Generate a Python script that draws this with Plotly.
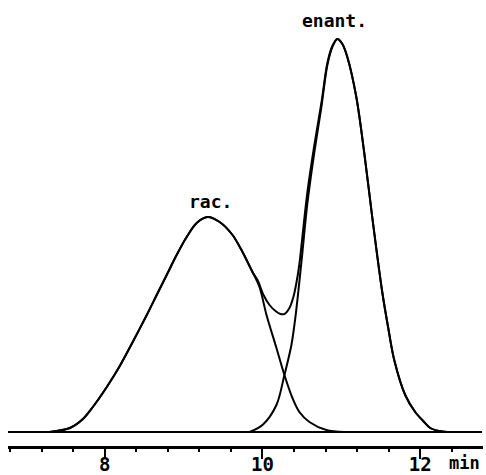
import plotly.graph_objects as go

# Retention time (min) and detector signal (arbitrary units)
rac_t = [7.30, 7.557, 7.722, 7.848, 8.025, 8.19, 8.354, 8.532, 8.658, 8.785, 8.911, 9.038, 9.165, 9.304,
         9.456, 9.62, 9.747, 9.873, 9.962, 10.051, 10.177, 10.278, 10.38, 10.468, 10.595, 10.81, 11.04]
rac_h = [0, 4, 13, 25, 45, 66, 90, 117, 137, 157, 177, 195, 209, 215,
         210, 197, 180, 160, 145, 117, 84, 57, 34, 20, 10, 2, 0]

enant_t = [9.835, 10.0, 10.177, 10.278, 10.367, 10.418, 10.494, 10.57, 10.658, 10.747, 10.823, 10.886, 10.949,
           11.013, 11.076, 11.19, 11.291, 11.392, 11.519, 11.595, 11.671, 11.81, 11.937, 12.038, 12.127, 12.24, 12.342]
enant_h = [0, 7, 27, 57, 87, 115, 170, 229, 280, 325, 367, 385, 393,
           388, 375, 335, 279, 215, 140, 104, 72, 37, 20, 11, 4, 1, 0]

total_t = [7.30, 7.557, 7.722, 7.848, 8.025, 8.19, 8.354, 8.532, 8.658, 8.785, 8.911, 9.038, 9.165, 9.304,
           9.456, 9.62, 9.747, 9.873, 9.937, 10.013, 10.089, 10.165, 10.228, 10.278, 10.342, 10.392, 10.43,
           10.468, 10.506, 10.57, 10.658, 10.747, 10.823, 10.886, 10.949,
           11.013, 11.076, 11.19, 11.291, 11.392, 11.519, 11.595, 11.671, 11.81, 11.937, 12.038, 12.127, 12.24, 12.342]
total_h = [0, 4, 13, 25, 45, 66, 90, 117, 137, 157, 177, 195, 209, 215,
           210, 197, 180, 160, 152, 137, 127, 121, 118, 118, 124, 135, 149,
           168, 195, 240, 287, 329, 369, 386, 393,
           388, 375, 335, 279, 215, 140, 104, 72, 37, 20, 11, 4, 1, 0]

baseline_t = [6.772, 12.785]
baseline_h = [0, 0]

tick_vals = [8, 10, 12]
tick_text = ["8", "10", "12"]
peak_labels = ["rac.", "enant."]
peak_label_t = [9.34, 10.91]
peak_label_h = [231, 412]

FONT = "DejaVu Sans Mono"

fig = go.Figure()
line = dict(color="black", width=2, shape="spline", smoothing=0.9)
fig.add_trace(go.Scatter(x=baseline_t, y=baseline_h, mode="lines", line=dict(color="black", width=2)))
fig.add_trace(go.Scatter(x=rac_t, y=rac_h, mode="lines", line=line))
fig.add_trace(go.Scatter(x=enant_t, y=enant_h, mode="lines", line=line))
fig.add_trace(go.Scatter(x=total_t, y=total_h, mode="lines", line=line))

for txt, tx, ty in zip(peak_labels, peak_label_t, peak_label_h):
    fig.add_annotation(x=tx, y=ty, text=txt, showarrow=False,
                       font=dict(family=FONT, size=18, color="black", weight="bold"))

fig.add_annotation(x=12.56, xref="x", y=-0.038, yref="paper", yanchor="middle",
                   text="min", showarrow=False,
                   font=dict(family=FONT, size=17, color="black", weight="bold"))

fig.update_layout(
    width=486, height=475,
    margin=dict(l=8, r=3, t=0, b=29),
    paper_bgcolor="white", plot_bgcolor="white",
    showlegend=False,
    xaxis=dict(range=[6.772, 12.797], showgrid=False, zeroline=False, automargin=False,
               showline=True, linecolor="black", linewidth=3,
               ticks="outside", ticklen=10, tickwidth=2, tickcolor="black",
               tickmode="array", tickvals=tick_vals, ticktext=tick_text,
               ticklabelstandoff=-11,
               tickfont=dict(family=FONT, size=19, color="black", weight="bold"),
               minor=dict(ticks="outside", ticklen=3, tickwidth=2, tickcolor="black",
                          tick0=8, dtick=0.4)),
    yaxis=dict(range=[-14, 432], visible=False, automargin=False),
)

fig.write_html("out.html")
